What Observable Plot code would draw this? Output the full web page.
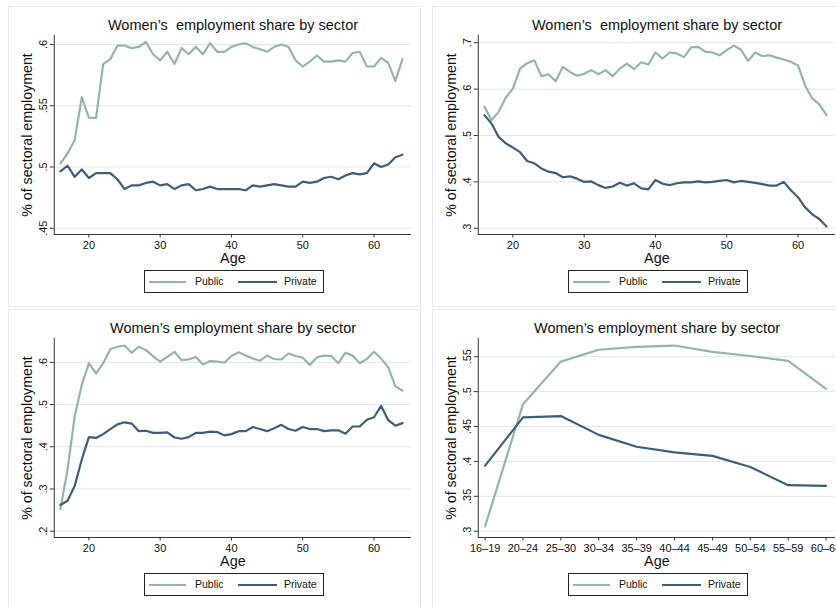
<!DOCTYPE html>
<html><head><meta charset="utf-8">
<script src="https://cdn.jsdelivr.net/npm/d3@7"></script>
<script src="https://cdn.jsdelivr.net/npm/@observablehq/plot@0.6"></script>
<style>
html,body{margin:0;padding:0;background:#fff;overflow:hidden;}
#wrap{position:relative;width:836px;height:607px;overflow:hidden;font-family:"Liberation Sans",Arial,sans-serif;color:#111;}
.panel{position:absolute;width:413px;height:301px;border:1px solid #e8e8e8;box-sizing:border-box;background:#fff;}
.title{position:absolute;left:44px;width:360px;top:8px;height:20px;line-height:20px;text-align:center;font-size:14.5px;white-space:pre;}
.chart{position:absolute;left:-1px;top:25px;}
.legend{position:absolute;left:135px;top:263px;width:180px;height:23px;border:1px solid #222;box-sizing:border-box;font-size:10.5px;}
.legend .ln{position:absolute;top:10px;height:2.2px;}
.legend .tx{position:absolute;top:0;line-height:21px;}
</style>
</head><body><div id="wrap"></div>
<script>
const ages = [16,17,18,19,20,21,22,23,24,25,26,27,28,29,30,31,32,33,34,35,36,37,38,39,40,41,42,43,44,45,46,47,48,49,50,51,52,53,54,55,56,57,58,59,60,61,62,63,64];

const p1Public = [.503,.511,.522,.557,.540,.540,.584,.588,.599,.599,.597,.598,.602,.592,.587,.594,.584,.597,.592,.598,.592,.601,.594,.594,.598,.600,.601,.598,.596,.594,.598,.600,.598,.587,.582,.586,.591,.586,.586,.587,.586,.593,.594,.582,.582,.589,.585,.570,.588];
const p1Private = [.4965,.501,.492,.498,.491,.495,.495,.495,.490,.482,.485,.485,.487,.488,.485,.486,.482,.485,.486,.481,.482,.484,.482,.482,.482,.482,.481,.485,.484,.485,.486,.485,.484,.484,.488,.487,.488,.491,.492,.490,.493,.495,.494,.495,.503,.500,.502,.508,.510];

const p2Public = [.562,.533,.551,.582,.601,.644,.656,.662,.628,.632,.617,.648,.637,.629,.633,.641,.632,.641,.628,.644,.655,.643,.658,.653,.679,.666,.679,.677,.669,.690,.691,.681,.679,.673,.684,.694,.685,.661,.679,.671,.673,.668,.664,.659,.651,.608,.580,.567,.544];
const p2Private = [.544,.526,.497,.483,.474,.464,.445,.440,.429,.422,.419,.410,.412,.407,.400,.401,.393,.387,.390,.398,.392,.397,.386,.384,.404,.396,.393,.397,.399,.399,.401,.399,.400,.402,.404,.399,.402,.400,.398,.395,.392,.392,.400,.382,.367,.345,.330,.320,.304];

const p3Public = [.252,.346,.472,.547,.598,.574,.598,.631,.637,.640,.623,.637,.629,.615,.602,.613,.625,.605,.607,.613,.595,.603,.602,.599,.615,.624,.616,.609,.604,.616,.608,.607,.621,.615,.611,.594,.612,.616,.615,.598,.623,.616,.598,.608,.625,.609,.588,.543,.533];
const p3Private = [.262,.272,.307,.370,.423,.421,.430,.442,.453,.458,.455,.437,.438,.433,.433,.434,.422,.419,.423,.433,.433,.436,.435,.427,.430,.437,.437,.447,.442,.437,.444,.452,.442,.438,.447,.442,.442,.437,.439,.439,.431,.448,.448,.464,.470,.497,.463,.450,.456];

const ageGroups = ["16–19","20–24","25–30","30–34","35–39","40–44","45–49","50–54","55–59","60–64"];
const p4Public = [.307,.482,.543,.560,.564,.566,.557,.551,.544,.504];
const p4Private = [.394,.463,.465,.438,.421,.413,.408,.392,.366,.365];

const titles = ["Women’s  employment share by sector","Women’s  employment share by sector","Women’s employment share by sector","Women’s employment share by sector"];
const yTitle = "% of sectoral employment";
const xTitle = "Age";
const seriesNames = ["Public","Private"];
const colors = {Public:"#92b6aa", Private:"#3c5e7c"};

const yTicks1 = [.45,.5,.55,.6];
const yTicks2 = [.3,.4,.5,.6,.7];
const yTicks3 = [.2,.3,.4,.5,.6];
const yTicks4 = [.3,.35,.4,.45,.5,.55];
const xTicksAge = [20,30,40,50,60];

const fmt = d => String(d).replace(/^0\./, ".");

function makePanel(left, top, title, xs, pub, priv, xDomain, yDomain, yTicks, xTicks, xFmt) {
  const wrap = document.getElementById("wrap");
  const p = document.createElement("div");
  p.className = "panel"; p.style.left = left + "px"; p.style.top = top + "px";
  const t = document.createElement("div"); t.className = "title"; t.textContent = title; p.appendChild(t);
  const pubRows = xs.map((x, i) => ({x, y: pub[i]}));
  const privRows = xs.map((x, i) => ({x, y: priv[i]}));
  const svg = Plot.plot({
    width: 413, height: 238, marginLeft: 46, marginRight: 8, marginTop: 3, marginBottom: 35,
    style: {fontFamily: "Liberation Sans, Arial, sans-serif", background: "transparent", overflow: "visible", color: "#111"},
    x: {domain: xDomain, label: null},
    y: {domain: yDomain, label: null},
    marks: [
      Plot.gridY(yTicks, {stroke: "#e4e4e4", strokeOpacity: 1, strokeWidth: 1}),
      Plot.ruleX([xDomain[0]], {y1: yDomain[0], y2: yDomain[1], stroke: "#333", strokeWidth: 1}),
      Plot.ruleY([yDomain[0]], {x1: xDomain[0], x2: xDomain[1], stroke: "#333", strokeWidth: 1}),
      Plot.axisY({ticks: yTicks, tickSize: 4, tickPadding: 3, tickRotate: -90, tickFormat: fmt, fontSize: 11, label: null, stroke: "#333"}),
      Plot.axisX({ticks: xTicks, tickSize: 3.5, tickPadding: 3.5, tickFormat: xFmt, fontSize: 11, label: null, stroke: "#333"}),
      Plot.line(pubRows, {x: "x", y: "y", stroke: colors.Public, strokeWidth: 2.2}),
      Plot.line(privRows, {x: "x", y: "y", stroke: colors.Private, strokeWidth: 2.2}),
      Plot.text([yTitle], {frameAnchor: "left", dx: -26.5, rotate: -90, textAnchor: "middle", lineAnchor: "middle", fontSize: 14.3, fill: "#111"}),
      Plot.text([xTitle], {frameAnchor: "bottom", dy: 24, textAnchor: "middle", lineAnchor: "middle", fontSize: 14.5, fill: "#111"})
    ]
  });
  svg.classList.add("chart");
  p.appendChild(svg);
  const lg = document.createElement("div"); lg.className = "legend";
  const items = [[4, 37, 50], [93, 39, 139]];
  seriesNames.forEach((name, i) => {
    const ln = document.createElement("div"); ln.className = "ln";
    ln.style.left = items[i][0] + "px"; ln.style.width = items[i][1] + "px"; ln.style.background = colors[name];
    const tx = document.createElement("div"); tx.className = "tx"; tx.style.left = items[i][2] + "px"; tx.textContent = name;
    lg.appendChild(ln); lg.appendChild(tx);
  });
  p.appendChild(lg);
  wrap.appendChild(p);
}

const ageDomain = [15.14, 65.27];
makePanel(8, 6, titles[0], ages, p1Public, p1Private, ageDomain, [.4449, .6073], yTicks1, xTicksAge, d => d);
makePanel(432, 6, titles[1], ages, p2Public, p2Private, ageDomain, [.2865, .7157], yTicks2, xTicksAge, d => d);
makePanel(8, 309, titles[2], ages, p3Public, p3Private, ageDomain, [.185, .6566], yTicks3, xTicksAge, d => d);
const groupIdx = ageGroups.map((g, i) => i + 1);
makePanel(432, 309, titles[3], groupIdx, p4Public, p4Private, [0.82, 10.25], [.291, .5761], yTicks4, groupIdx, d => ageGroups[d - 1]);
</script></body></html>
